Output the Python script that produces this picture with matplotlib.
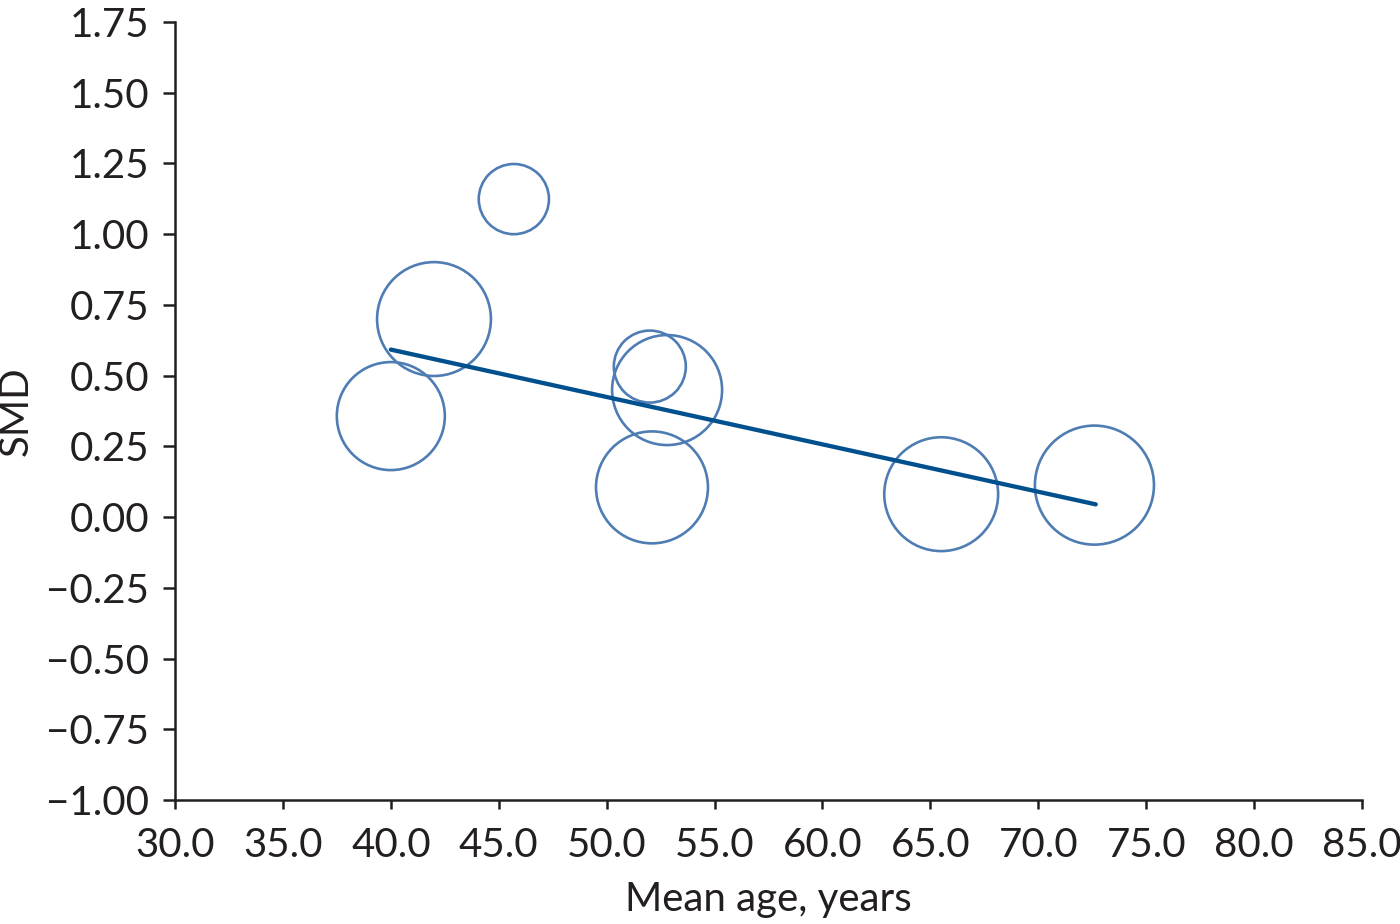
import matplotlib
matplotlib.use("Agg")
import matplotlib.pyplot as plt
import numpy as np

# Data
mean_age = [40.0, 42.0, 45.7, 52.0, 52.8, 52.1, 65.5, 72.6]
smd = [0.357, 0.70, 1.124, 0.532, 0.449, 0.105, 0.081, 0.113]
weight_pct = [13.5, 15.0, 5.7, 6.0, 14.0, 14.5, 15.0, 16.4]

reg_x = [40.0, 72.66]
reg_y = [0.592, 0.045]

xticks = [30.0, 35.0, 40.0, 45.0, 50.0, 55.0, 60.0, 65.0, 70.0, 75.0, 80.0, 85.0]
yticks = [-1.00, -0.75, -0.50, -0.25, 0.00, 0.25, 0.50, 0.75, 1.00, 1.25, 1.50, 1.75]

plt.rcParams['font.family'] = ['Lato', 'DejaVu Sans']
text_color = '#231f20'

fig = plt.figure(figsize=(14, 9.24), dpi=100)
ax = fig.add_axes([0.125, 0.1342, 0.8479, 0.8420])

sizes = [w * 448 for w in weight_pct]
ax.scatter(mean_age, smd, s=sizes, facecolors='none', edgecolors='#4f7db3',
           linewidths=1.9, zorder=2)
ax.plot(reg_x, reg_y, color='#00508e', linewidth=3.1, solid_capstyle='round', zorder=3)

ax.set_xlim(30, 85)
ax.set_ylim(-1.0, 1.75)
ax.set_xticks(xticks)
ax.set_yticks(yticks)
ax.set_xticklabels([f"{v:.1f}" for v in xticks])
ax.set_yticklabels([f"{v:.2f}".replace('-', '\u2212') for v in yticks])

for side in ['top', 'right']:
    ax.spines[side].set_visible(False)
for side in ['left', 'bottom']:
    ax.spines[side].set_linewidth(1.8)
    ax.spines[side].set_color(text_color)

ax.tick_params(axis='y', direction='out', length=8.5, width=1.8, color=text_color,
               labelsize=29, labelcolor=text_color, pad=10)
ax.tick_params(axis='x', direction='out', length=6.5, width=1.8, color=text_color,
               labelsize=29, labelcolor=text_color, pad=13)

ax.set_xlabel('Mean age, years', fontsize=29, color=text_color, labelpad=12)
ax.set_ylabel('SMD', fontsize=29, color=text_color, labelpad=8)

fig.savefig('out.png', dpi=100, facecolor='white')
